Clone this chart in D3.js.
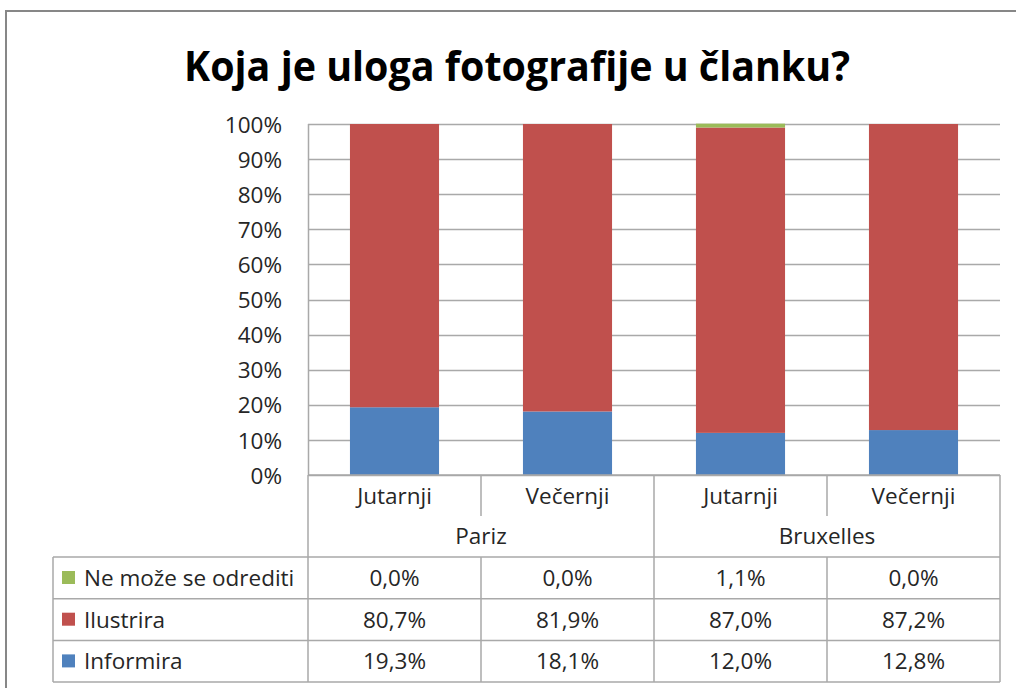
<!DOCTYPE html>
<html>
<head>
<meta charset="utf-8">
<script src="https://cdn.jsdelivr.net/npm/d3@7"></script>
<style>
  body { margin: 0; background: #fff; }
  svg text { font-family: "Open Sans", "Liberation Sans", sans-serif; }
</style>
</head>
<body>
<svg id="chart" width="1016" height="688"></svg>
<script>
// data
const categories = ["Jutarnji", "Večernji", "Jutarnji", "Večernji"];
const groups = ["Pariz", "Bruxelles"];
const seriesNames = ["Informira", "Ilustrira", "Ne može se odrediti"];
const informira = [19.3, 18.1, 12.0, 12.8];
const ilustrira = [80.7, 81.9, 87.0, 87.2];
const neMoze = [0.0, 0.0, 1.1, 0.0];
const yTicks = [0, 10, 20, 30, 40, 50, 60, 70, 80, 90, 100];

const colors = {"Informira": "#4f81bd", "Ilustrira": "#c0504d", "Ne može se odrediti": "#9bbb59"};
const gridColor = "#a9a9a9";
const textColor = "#262626";
const fontSize = 22.5;

const svg = d3.select("#chart");

// chart frame (only top / left visible in the crop)
svg.append("path")
    .attr("d", "M6,688V11H1016")
    .attr("fill", "none")
    .attr("stroke", "#878787")
    .attr("stroke-width", 2);

svg.append("text")
    .attr("x", 517)
    .attr("y", 81)
    .attr("text-anchor", "middle")
    .attr("font-size", 41)
    .attr("font-weight", 700)
    .attr("fill", "#000")
    .attr("textLength", 666)
    .attr("lengthAdjust", "spacingAndGlyphs")
    .text("Koja je uloga fotografije u članku?");

const plot = {left: 308, right: 1000, top: 124, bottom: 475};

const x = d3.scaleBand()
    .domain(d3.range(categories.length))
    .range([plot.left, plot.right])
    .padding(0);

const y = d3.scaleLinear()
    .domain([0, 100])
    .range([plot.bottom, plot.top]);

const barWidth = x.bandwidth() * 0.515;

// gridlines
svg.append("g")
    .selectAll("line")
    .data(yTicks)
    .join("line")
    .attr("x1", plot.left)
    .attr("x2", plot.right)
    .attr("y1", d => Math.round(y(d)) + 0.5)
    .attr("y2", d => Math.round(y(d)) + 0.5)
    .attr("stroke", gridColor)
    .attr("stroke-width", 1.5);

// y axis labels
const yAxis = d3.axisLeft(y)
    .tickValues(yTicks)
    .tickFormat(d => d + "%")
    .tickSize(0)
    .tickPadding(26);

svg.append("g")
    .attr("transform", `translate(${plot.left},0)`)
    .call(yAxis)
    .call(g => g.select(".domain").remove())
    .selectAll("text")
    .attr("font-size", fontSize)
    .attr("fill", textColor)
    .attr("dy", "0.36em");

// stacked bars
const rows = categories.map((c, i) => ({
    i,
    "Informira": informira[i],
    "Ilustrira": ilustrira[i],
    "Ne može se odrediti": neMoze[i]
}));
const stack = d3.stack().keys(seriesNames)(rows);

svg.append("g")
    .selectAll("g")
    .data(stack)
    .join("g")
    .attr("fill", d => colors[d.key])
    .selectAll("rect")
    .data(d => d)
    .join("rect")
    .attr("x", d => x(d.data.i) + (x.bandwidth() - barWidth) / 2)
    .attr("width", barWidth)
    .attr("y", d => y(d[1]))
    .attr("height", d => y(d[0]) - y(d[1]));

// vertical axis line
svg.append("line")
    .attr("x1", plot.left + 0.5).attr("x2", plot.left + 0.5)
    .attr("y1", plot.top).attr("y2", plot.bottom)
    .attr("stroke", gridColor)
    .attr("stroke-width", 1.5);

// data table
const table = svg.append("g");
const tableLeft = 53;
const subRowBottom = 516;
const groupRowBottom = 557;
const rowH = 41.7;
const tableRows = seriesNames.slice().reverse();
const tableBottom = groupRowBottom + rowH * tableRows.length;

const tline = (x1, y1, x2, y2) => table.append("line")
    .attr("x1", x1).attr("y1", y1).attr("x2", x2).attr("y2", y2)
    .attr("stroke", gridColor)
    .attr("stroke-width", 1.5);

// header lines
tline(plot.left, plot.bottom, plot.right, plot.bottom);
tline(plot.left, plot.bottom, plot.left, tableBottom);
tline(plot.right, plot.bottom, plot.right, tableBottom);
const groupSize = categories.length / groups.length;
groups.forEach((g, gi) => {
    const gx0 = x(gi * groupSize);
    if (gi > 0) tline(gx0, plot.bottom, gx0, tableBottom);
    for (let k = 1; k < groupSize; k++) {
        const cx = x(gi * groupSize + k);
        tline(cx, plot.bottom, cx, subRowBottom);
        tline(cx, groupRowBottom, cx, tableBottom);
    }
});
d3.range(tableRows.length + 1).forEach(r => {
    const yy = groupRowBottom + r * rowH;
    tline(tableLeft, yy, plot.right, yy);
});
tline(tableLeft, groupRowBottom, tableLeft, tableBottom);

// category labels
table.selectAll("text.cat")
    .data(categories)
    .join("text")
    .attr("class", "cat")
    .attr("x", (d, i) => x(i) + x.bandwidth() / 2)
    .attr("y", 504)
    .attr("text-anchor", "middle")
    .attr("font-size", fontSize)
    .attr("fill", textColor)
    .text(d => d);

table.selectAll("text.grp")
    .data(groups)
    .join("text")
    .attr("class", "grp")
    .attr("x", (d, gi) => (x(gi * groupSize) + x(gi * groupSize + groupSize - 1) + x.bandwidth()) / 2)
    .attr("y", 544)
    .attr("text-anchor", "middle")
    .attr("font-size", fontSize)
    .attr("fill", textColor)
    .text(d => d);

const seriesValues = {"Informira": informira, "Ilustrira": ilustrira, "Ne može se odrediti": neMoze};
const fmt = v => v.toFixed(1).replace(".", ",") + "%";

tableRows.forEach((name, r) => {
    const rowTop = groupRowBottom + r * rowH;
    const base = rowTop + 29;
    table.append("rect")
        .attr("x", 62)
        .attr("y", rowTop + 14)
        .attr("width", 13)
        .attr("height", 13)
        .attr("fill", colors[name]);
    table.append("text")
        .attr("x", 84)
        .attr("y", base)
        .attr("font-size", fontSize)
        .attr("fill", textColor)
        .text(name);
    table.selectAll(null)
        .data(seriesValues[name])
        .join("text")
        .attr("x", (d, i) => x(i) + x.bandwidth() / 2)
        .attr("y", base)
        .attr("text-anchor", "middle")
        .attr("font-size", fontSize)
        .attr("fill", textColor)
        .text(d => fmt(d));
});
</script>
</body>
</html>
